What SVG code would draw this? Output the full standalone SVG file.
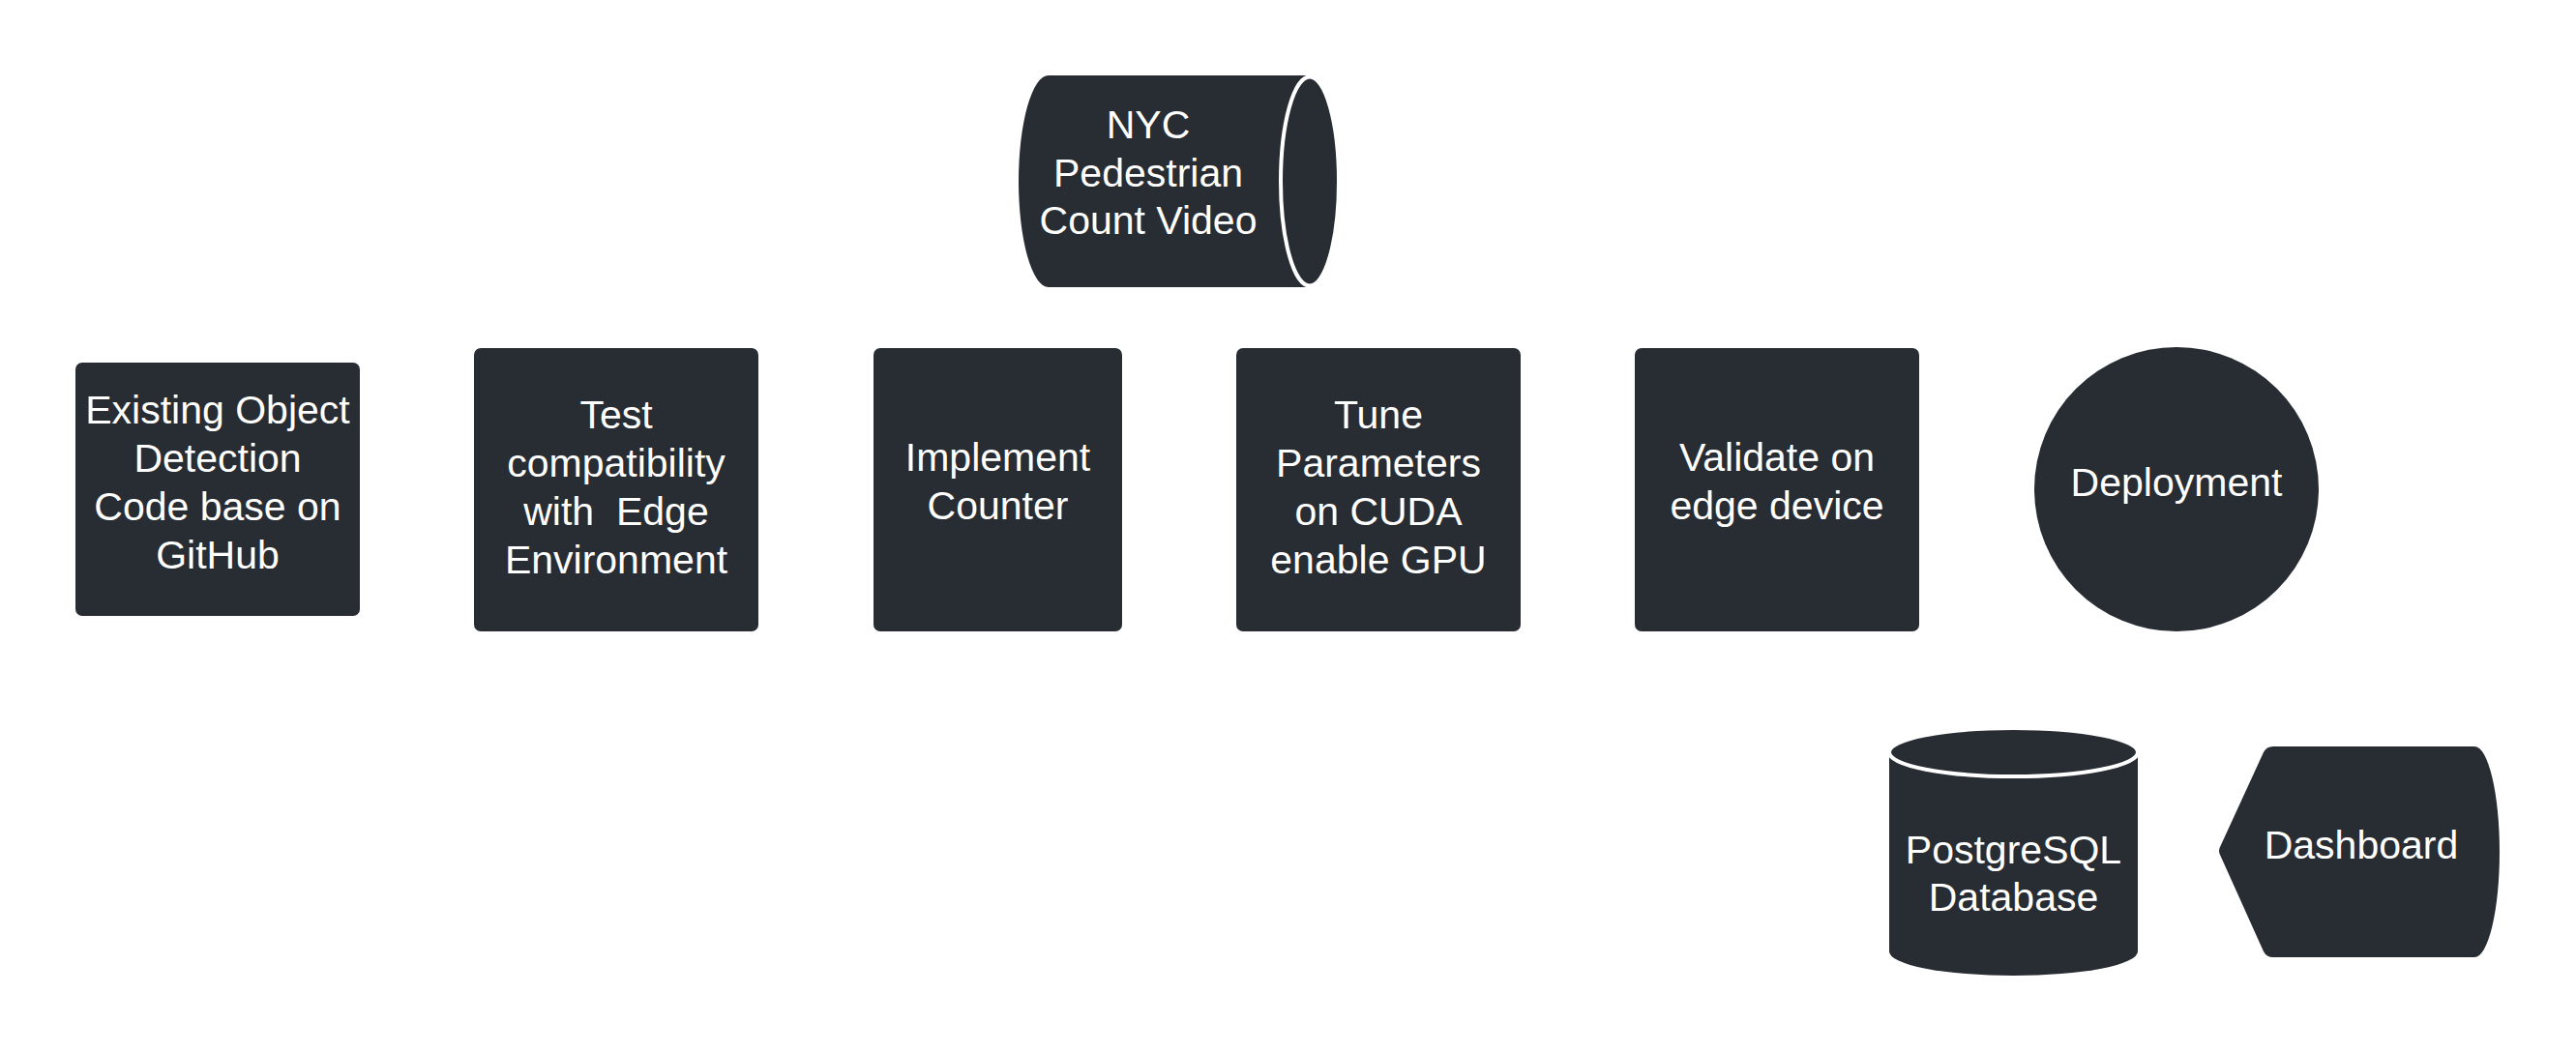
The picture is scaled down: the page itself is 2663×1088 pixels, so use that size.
<svg xmlns="http://www.w3.org/2000/svg" width="2663" height="1088" viewBox="0 0 2663 1088">
<style>
.n{fill:#282c33}
.t{font-family:"Liberation Sans",Arial,sans-serif;font-size:41px;fill:#ffffff;text-anchor:middle}
.w{fill:#282c33;stroke:#ffffff;stroke-width:4}
</style>
<rect width="2663" height="1088" fill="#ffffff"/>
<g id="connectors"></g>
<g id="nyc-video">
<path class="n" d="M1084,78 L1354,78 A31,109.5 0 0 1 1354,297 L1084,297 A31,109.5 0 0 1 1084,78 Z"/>
<ellipse class="w" cx="1354" cy="187.5" rx="30" ry="108"/>
<text class="t" x="1187" y="143">NYC</text>
<text class="t" x="1187" y="193">Pedestrian</text>
<text class="t" x="1187" y="242">Count Video</text>
</g>
<g id="existing-code">
<rect class="n" x="78" y="375" width="294" height="262" rx="7"/>
<text class="t" x="225" y="438">Existing Object</text>
<text class="t" x="225" y="488">Detection</text>
<text class="t" x="225" y="538">Code base on</text>
<text class="t" x="225" y="588">GitHub</text>
</g>
<g id="test-compat">
<rect class="n" x="490" y="360" width="294" height="293" rx="7"/>
<text class="t" x="637" y="443">Test</text>
<text class="t" x="637" y="493">compatibility</text>
<text class="t" x="637" y="543" xml:space="preserve">with  Edge</text>
<text class="t" x="637" y="593">Environment</text>
</g>
<g id="implement-counter">
<rect class="n" x="903" y="360" width="257" height="293" rx="7"/>
<text class="t" x="1031.5" y="487">Implement</text>
<text class="t" x="1031.5" y="537">Counter</text>
</g>
<g id="tune-params">
<rect class="n" x="1278" y="360" width="294" height="293" rx="7"/>
<text class="t" x="1425" y="443">Tune</text>
<text class="t" x="1425" y="493">Parameters</text>
<text class="t" x="1425" y="543">on CUDA</text>
<text class="t" x="1425" y="593">enable GPU</text>
</g>
<g id="validate">
<rect class="n" x="1690" y="360" width="294" height="293" rx="7"/>
<text class="t" x="1837" y="487">Validate on</text>
<text class="t" x="1837" y="537">edge device</text>
</g>
<g id="deployment">
<circle class="n" cx="2250" cy="506" r="147"/>
<text class="t" x="2250" y="513">Deployment</text>
</g>
<g id="postgres">
<path class="n" d="M1953,778 L1953,984 A128.5,25 0 0 0 2210,984 L2210,778 Z"/>
<ellipse class="w" cx="2081.5" cy="778" rx="128.5" ry="25"/>
<text class="t" x="2081.5" y="893">PostgreSQL</text>
<text class="t" x="2081.5" y="942">Database</text>
</g>
<g id="dashboard">
<path class="n" d="M2295,876 L2340,778 Q2343,772 2350,772 L2558,772 A26,109 0 0 1 2558,990 L2350,990 Q2343,990 2340,984 L2295,884 Q2293,880 2295,876 Z"/>
<text class="t" x="2441" y="888">Dashboard</text>
</g>
</svg>
